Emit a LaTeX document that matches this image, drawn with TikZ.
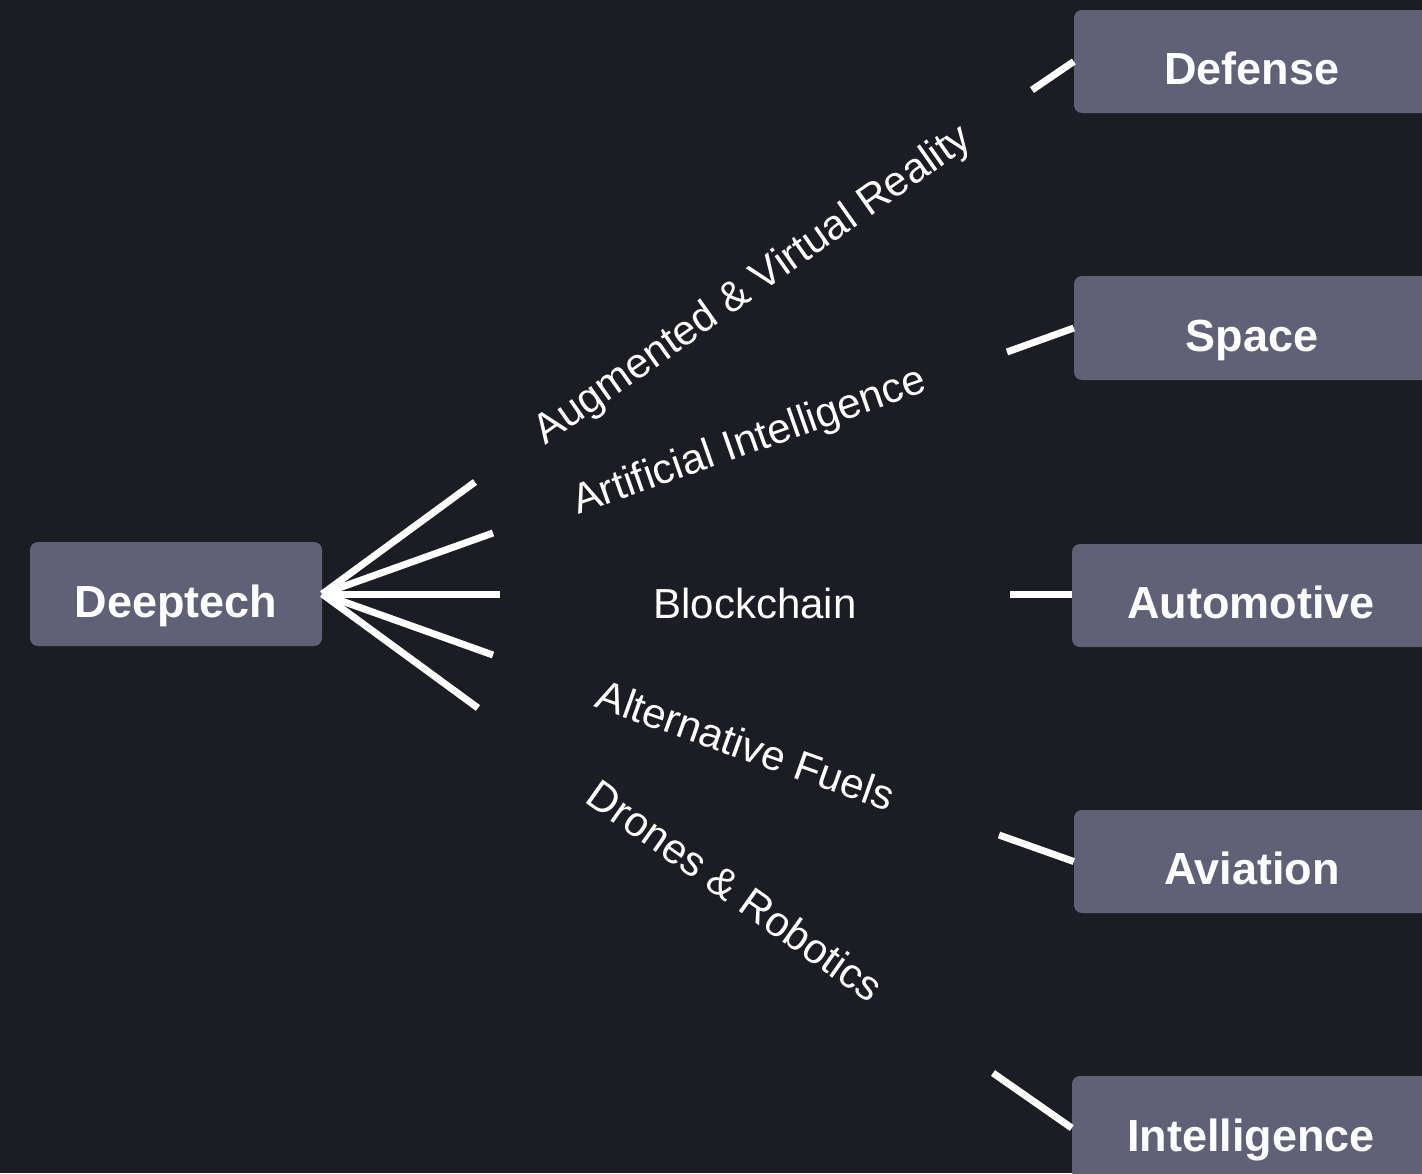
\documentclass[tikz,border=0pt]{standalone}
\usepackage{fontspec}
\setmainfont{Liberation Sans}
\definecolor{bg}{RGB}{28,28,36}
\definecolor{boxfill}{RGB}{96,96,119}
\begin{document}
\begin{tikzpicture}[x=1pt,y=-1pt,
  catbox/.style={fill=boxfill, rounded corners=8pt, inner sep=0pt, text=white,
    text height=46pt, text depth=0pt,
    font=\fontsize{45}{52}\selectfont\bfseries},
  link/.style={draw=white, line width=7pt},
  lbl/.style={text=white, font=\fontsize{42}{50}\selectfont, inner sep=0pt}]
\fill[bg] (0,0) rectangle (1422,1173);
\useasboundingbox (0,0) rectangle (1422,1173);

% hub and targets
\node[catbox, minimum width=292pt, minimum height=104pt] (dt) at (176,594) {Deeptech};
\node[catbox, minimum width=356pt, minimum height=103pt] (def) at (1252,61.5) {Defense};
\node[catbox, minimum width=356pt, minimum height=104pt] (spc) at (1252,328) {Space};
\node[catbox, minimum width=358pt, minimum height=103pt] (aut) at (1251,595.5) {Automotive};
\node[catbox, minimum width=356pt, minimum height=103pt] (avi) at (1252,861.5) {Aviation};
\node[catbox, minimum width=358pt, minimum height=104pt] (int) at (1251,1128) {Intelligence};

% fan ends near the hub and stub starts near the targets
\coordinate (a1) at (475,482);  \coordinate (b1) at (1032,90);
\coordinate (a2) at (493,533);  \coordinate (b2) at (1007,352);
\coordinate (a3) at (500,594);  \coordinate (b3) at (1010,594);
\coordinate (a4) at (493,655);  \coordinate (b4) at (999,835);
\coordinate (a5) at (478,708);  \coordinate (b5) at (993,1073);

\draw[link] (dt.east) -- (a1);
\draw[link] (dt.east) -- (a2);
\draw[link] (dt.east) -- (a3);
\draw[link] (dt.east) -- (a4);
\draw[link] (dt.east) -- (a5);

\draw[link] (b1) -- (def.west);
\draw[link] (b2) -- (spc.west);
\draw[link] (b3) -- (b3 -| aut.west);
\draw[link] (b4) -- (avi.west);
\draw[link] (b5) -- (int.west);

% edge labels
\path (a1) -- node[lbl, sloped] (l1) {Augmented \& Virtual Reality} (b1);
\path (a2) -- node[lbl, sloped] (l2) {Artificial Intelligence} (b2);
\path (a3) -- node[lbl, sloped, yshift=-9pt] (l3) {Blockchain} (b3);
\path (a4) -- node[lbl, sloped] (l4) {Alternative Fuels} (b4);
\path (a5) -- node[lbl, sloped] (l5) {Drones \& Robotics} (b5);
\end{tikzpicture}
\end{document}
